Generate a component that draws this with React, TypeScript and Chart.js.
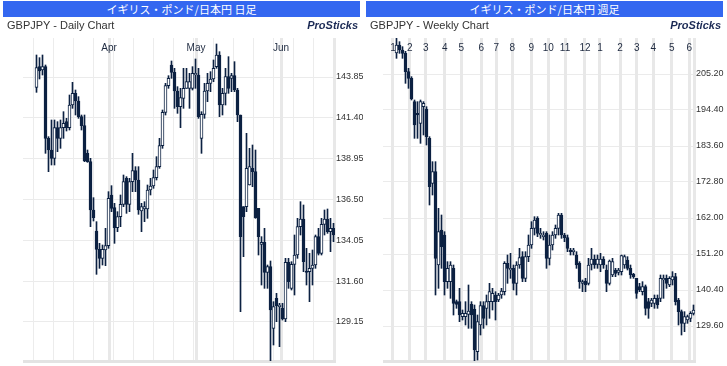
import React, { useEffect, useRef } from 'react';
import { Chart, registerables } from 'chart.js';

Chart.register(...registerables);

const NAVY = '#0c2142';

// ---------- Daily (GBPJPY) ----------
const dailyOpen = [143.23, 144.47, 144.27, 144.47, 140.17, 139.47, 138.97, 140.81, 140.17, 140.81,
  141.17, 140.81, 142.17, 142.87, 142.41, 141.47, 140.93, 139.27, 138.77, 135.87,
  134.61, 133.51, 132.97, 133.47, 133.73, 136.77, 136.01, 134.81, 135.47, 136.21,
  137.77, 136.21, 137.57, 138.23, 137.67, 135.81, 135.93, 135.93, 137.07, 137.31,
  137.81, 138.47, 139.73, 141.73, 143.33, 144.57, 144.13, 143.01, 142.07, 142.57,
  143.17, 143.17, 143.17, 143.97, 143.97, 140.17, 141.61, 143.01, 143.47, 143.73,
  144.47, 145.17, 142.17, 142.87, 143.87, 143.77, 143.93, 143.07, 141.57, 136.07,
  136.07, 137.37, 138.37, 138.17, 135.97, 133.81, 133.93, 132.13, 132.47, 128.77,
  130.57, 130.07, 129.97, 129.33, 132.73, 131.17, 132.61, 133.17, 134.87, 135.33,
  132.21, 132.17, 132.37, 132.57, 134.27, 133.27, 135.01, 135.33, 134.57, 134.77];
const dailyHigh = [145.17, 145.01, 145.17, 144.57, 140.27, 141.27, 141.27, 141.17, 141.27, 141.77,
  141.37, 142.77, 143.53, 143.07, 142.67, 141.57, 141.57, 139.47, 138.97, 136.61,
  135.17, 133.87, 133.77, 134.77, 136.97, 137.33, 136.27, 135.77, 136.77, 137.97,
  137.87, 137.77, 139.27, 138.47, 138.47, 136.27, 136.37, 137.37, 137.77, 138.27,
  139.07, 140.17, 141.87, 143.47, 143.93, 144.81, 144.37, 143.27, 143.17, 144.37,
  144.37, 144.07, 144.47, 144.93, 144.37, 141.77, 143.47, 144.07, 144.17, 144.87,
  145.83, 145.37, 143.17, 144.37, 145.07, 144.07, 144.77, 143.17, 141.57, 136.07,
  140.47, 139.57, 139.77, 139.47, 135.97, 134.27, 134.77, 132.57, 132.81, 130.37,
  130.87, 130.27, 130.27, 132.97, 132.97, 132.77, 134.37, 135.37, 136.37, 136.17,
  133.57, 133.27, 133.47, 134.37, 134.77, 135.37, 135.87, 135.93, 135.37, 135.07];
const dailyLow = [142.93, 143.73, 143.97, 139.27, 138.17, 138.57, 138.57, 139.37, 139.57, 140.17,
  140.61, 140.67, 141.97, 141.57, 141.37, 140.67, 138.77, 138.73, 134.87, 135.21,
  132.01, 132.37, 132.57, 132.53, 133.57, 135.77, 133.87, 134.57, 134.87, 136.07,
  135.67, 135.77, 136.97, 136.97, 135.61, 134.57, 135.17, 135.37, 136.77, 137.17,
  137.67, 138.37, 139.57, 141.57, 143.17, 143.77, 141.97, 141.67, 140.81, 141.97,
  143.17, 141.97, 143.07, 143.17, 141.37, 139.27, 141.37, 142.37, 142.97, 143.57,
  144.37, 141.47, 141.57, 142.17, 142.87, 142.97, 142.97, 141.17, 129.77, 133.07,
  135.77, 137.37, 137.27, 135.37, 133.17, 131.37, 131.17, 131.17, 126.77, 127.77,
  129.17, 127.67, 129.27, 129.17, 131.17, 131.07, 130.77, 132.97, 134.37, 132.17,
  131.37, 130.37, 131.37, 132.37, 133.17, 133.17, 134.37, 134.47, 133.37, 133.97];
const dailyClose = [144.41, 144.21, 144.47, 140.17, 139.47, 138.97, 140.81, 140.17, 140.81, 141.07,
  140.81, 142.17, 142.87, 142.41, 141.47, 140.93, 138.81, 138.77, 135.87, 135.41,
  133.51, 132.97, 133.51, 133.73, 136.57, 135.97, 134.81, 135.47, 136.21, 137.57,
  136.21, 137.57, 138.23, 137.67, 135.87, 136.07, 136.07, 137.07, 137.31, 137.81,
  138.47, 139.73, 141.73, 143.33, 143.77, 144.13, 143.01, 142.07, 142.61, 143.17,
  143.57, 143.57, 144.07, 144.07, 141.47, 141.61, 143.01, 143.47, 143.73, 144.37,
  145.17, 142.17, 142.87, 143.87, 143.17, 143.93, 143.07, 141.57, 134.27, 135.47,
  138.37, 138.47, 138.17, 135.41, 134.27, 133.93, 132.13, 132.47, 129.87, 130.07,
  130.13, 130.17, 129.33, 132.73, 131.57, 132.61, 133.17, 134.87, 135.33, 132.77,
  132.13, 132.37, 132.57, 134.27, 133.27, 135.01, 135.33, 134.57, 134.77, 134.37];
const dailyYTicks = [129.15, 131.6, 134.05, 136.5, 138.95, 141.4, 143.85];
const dailyMonthLabels = ['Apr', 'May', 'Jun'];
const dailyMonthPos = [24.17, 53.17, 81.5];
const dailyWeekPos = [-1, 5.67, 12.33, 19, 25.67, 32.33, 39, 45.67, 52.33, 59, 65.67, 72.33, 79, 85.67, 92.33, 99];

// ---------- Weekly (GBPJPY) ----------
const weeklyOpen = [211.5, 213.9, 212.4, 211.4, 205.9, 203.9, 196.9, 193.4, 190.4, 195.4,
  194.7, 185.9, 172.4, 175.9, 147.9, 158.4, 156.9, 142.9, 142.9, 146.9,
  136.9, 136.9, 132.4, 132.4, 133.1, 136.1, 134.7, 121.9, 129.9, 135.7,
  134.9, 136.9, 136.9, 138.9, 137.4, 138.9, 139.9, 148.4, 146.4, 146.9,
  142.4, 147.9, 150.4, 143.9, 150.4, 153.9, 158.9, 161.9, 156.9, 156.4,
  157.4, 149.9, 153.9, 156.9, 158.9, 162.9, 156.9, 156.1, 152.4, 151.9,
  150.9, 148.4, 142.4, 143.1, 142.4, 148.1, 149.7, 148.1, 147.9, 149.7,
  146.4, 142.4, 144.9, 146.4, 145.7, 145.9, 147.9, 149.4, 146.9, 145.1,
  143.9, 141.4, 139.9, 141.4, 136.9, 136.4, 136.4, 137.9, 137.9, 143.4,
  143.9, 141.9, 143.4, 144.4, 137.4, 133.9, 130.4, 131.4, 131.9, 133.4];
const weeklyHigh = [215.9, 214.9, 213.4, 212.0, 206.9, 204.4, 197.4, 196.9, 197.4, 196.9,
  195.4, 186.4, 178.9, 178.9, 164.9, 162.9, 157.9, 148.9, 148.9, 147.9,
  137.4, 140.9, 134.4, 136.9, 141.9, 136.9, 135.9, 132.9, 136.9, 136.9,
  138.9, 142.4, 140.9, 139.9, 139.4, 140.9, 148.9, 150.9, 151.4, 147.9,
  148.9, 152.9, 151.9, 151.9, 156.9, 160.9, 162.4, 162.4, 158.9, 157.9,
  157.9, 156.9, 157.9, 159.9, 163.4, 163.4, 157.4, 156.9, 152.9, 152.9,
  151.9, 148.9, 143.4, 143.9, 149.9, 152.9, 150.9, 150.9, 151.4, 150.4,
  147.9, 149.4, 149.9, 146.9, 146.9, 150.9, 150.9, 150.4, 147.9, 145.4,
  143.9, 142.4, 142.9, 141.9, 137.9, 137.9, 138.9, 138.9, 144.9, 144.9,
  144.9, 144.4, 145.9, 145.4, 137.9, 134.4, 133.9, 132.9, 133.9, 135.9];
const weeklyLow = [209.9, 211.4, 209.9, 202.4, 200.9, 197.4, 185.9, 185.9, 184.4, 186.9,
  183.9, 165.9, 168.9, 138.9, 140.9, 146.9, 138.9, 140.9, 137.9, 132.9,
  134.9, 130.9, 131.4, 129.9, 128.9, 128.9, 118.9, 119.4, 126.9, 128.9,
  129.9, 131.9, 134.4, 131.4, 136.9, 137.9, 138.9, 142.4, 143.9, 140.4,
  138.9, 146.9, 142.9, 142.9, 148.9, 152.9, 156.9, 156.4, 155.9, 155.4,
  146.9, 147.9, 152.4, 155.9, 156.9, 155.9, 154.9, 151.9, 150.9, 150.9,
  146.9, 140.9, 139.9, 139.9, 141.9, 146.4, 146.9, 146.9, 145.9, 146.9,
  139.9, 141.9, 144.4, 144.4, 144.9, 144.9, 146.9, 146.4, 143.9, 143.9,
  137.9, 139.9, 138.9, 132.9, 131.9, 135.4, 134.9, 134.9, 136.9, 137.9,
  140.9, 141.4, 141.9, 135.9, 129.9, 126.9, 127.9, 130.4, 130.9, 132.9];
const weeklyClose = [213.9, 212.4, 211.4, 205.9, 203.9, 197.7, 189.9, 192.9, 196.9, 196.4,
  186.4, 171.4, 175.9, 149.9, 157.9, 153.4, 142.9, 146.9, 147.9, 136.4,
  136.1, 132.9, 133.4, 133.4, 134.1, 132.9, 122.4, 130.9, 135.7, 131.9,
  136.9, 139.9, 139.4, 136.9, 138.9, 140.1, 148.4, 146.9, 146.9, 142.4,
  147.9, 150.1, 143.9, 150.4, 153.9, 158.9, 161.4, 157.4, 157.4, 156.9,
  149.9, 153.9, 156.9, 158.9, 162.9, 156.9, 156.1, 152.9, 151.9, 152.4,
  147.9, 142.9, 142.9, 141.9, 147.9, 149.7, 147.9, 149.7, 149.7, 147.9,
  142.4, 149.1, 148.9, 145.4, 146.4, 150.7, 150.4, 146.9, 144.9, 144.4,
  139.4, 140.4, 141.4, 134.9, 134.9, 137.4, 137.9, 135.9, 143.9, 143.9,
  142.4, 143.9, 144.4, 136.9, 133.9, 130.4, 132.4, 132.4, 133.4, 134.4];
const weeklyYTicks = [129.6, 140.4, 151.2, 162.0, 172.8, 183.6, 194.4, 205.2];
const weeklyMonthLabels = ['1', '2', '3', '4', '5', '6', '7', '8', '9', '10', '11', '12', '1', '2', '3', '4', '5', '6'];
const weeklyMonthPos = [-1.17, 4.4, 9.73, 16.07, 21.6, 28.27, 33.27, 38.6, 44.93, 50.6, 56.17, 62.83, 67.83, 74.5, 80.07, 85.6, 91.73, 97.6];
const weeklyWeekPos: number[] = [];

const FONT = '"Liberation Sans", Arial, sans-serif';

type CanvasProps = {
  width: number;
  height: number;
  open: number[];
  high: number[];
  low: number[];
  close: number[];
  yMin: number;
  yMax: number;
  yTicks: number[];
  padLeft: number;
  axisWidth: number;
  monthLabels: string[];
  monthPos: number[];
  weekPos: number[];
};

function CandleCanvas(props: CanvasProps) {
  const ref = useRef<HTMLCanvasElement | null>(null);
  useEffect(() => {
    const canvas = ref.current;
    if (!canvas) return;
    const { open, high, low, close } = props;
    const bodies = open.map((o, i) => ({ x: i, y: [o, close[i]] }));
    const wicks = open.map((_, i) => ({ x: i, y: [low[i], high[i]] }));
    const fills = open.map((o, i) => (close[i] >= o ? '#ffffff' : NAVY));

    const overlay = {
      id: 'panelGrid',
      beforeDatasetsDraw(chart: any) {
        const { ctx, chartArea: a } = chart;
        const xs = chart.scales.x;
        const h = a.bottom - a.top;
        ctx.save();
        ctx.fillStyle = '#ececec';
        props.weekPos.forEach((v) => {
          const px = xs.getPixelForValue(v);
          ctx.fillRect(Math.round(px - 0.5), a.top, 1, h);
        });
        ctx.fillStyle = '#e8e8e8';
        props.monthPos.forEach((v) => {
          const px = xs.getPixelForValue(v);
          ctx.fillRect(Math.round(px - 1.5), a.top, 3, h);
        });
        ctx.fillRect(Math.round(a.right) - 2, a.top, 3, h);
        ctx.fillStyle = '#e3e3e3';
        ctx.fillRect(Math.round(a.left), Math.round(a.bottom) - 1, Math.round(a.right - a.left) + 1, 3);
        ctx.fillStyle = '#1e2a40';
        ctx.font = '10px ' + FONT;
        ctx.textAlign = 'center';
        ctx.textBaseline = 'alphabetic';
        props.monthLabels.forEach((t, k) => {
          ctx.fillText(t, xs.getPixelForValue(props.monthPos[k]), a.top + 12.5);
        });
        ctx.restore();
      },
    };

    const chart = new Chart(canvas, {
      type: 'bar',
      data: {
        datasets: [
          {
            data: bodies as any,
            backgroundColor: fills,
            borderColor: NAVY,
            borderWidth: 1,
            borderSkipped: false,
            barThickness: 3,
            grouped: false,
          } as any,
          {
            data: wicks as any,
            backgroundColor: NAVY,
            borderWidth: 0,
            barThickness: 1,
            grouped: false,
          } as any,
        ],
      },
      options: {
        animation: false,
        responsive: false,
        maintainAspectRatio: false,
        layout: { padding: { left: props.padLeft, top: 8, bottom: 5, right: 0 } },
        plugins: { legend: { display: false }, tooltip: { enabled: false }, title: { display: false } },
        scales: {
          x: { type: 'linear', display: false, min: -4.5, max: 99.5, offset: false },
          y: {
            position: 'right',
            min: props.yMin,
            max: props.yMax,
            bounds: 'data',
            afterBuildTicks: (s: any) => {
              s.ticks = props.yTicks.map((v) => ({ value: v }));
            },
            afterFit: (s: any) => {
              s.width = props.axisWidth;
              s.paddingTop = 0;
              s.paddingBottom = 0;
            },
            grid: { color: '#ebebeb', lineWidth: 1, drawTicks: false },
            border: { display: false },
            ticks: {
              padding: 1,
              color: '#333333',
              font: { size: 9, family: FONT },
              autoSkip: false,
              callback: (v: any) => Number(v).toFixed(2),
            },
          } as any,
        },
      } as any,
      plugins: [overlay],
    });
    return () => chart.destroy();
  }, []);
  return (
    <canvas
      ref={ref}
      width={props.width}
      height={props.height}
      style={{ position: 'absolute', left: 0, top: 30, width: props.width, height: props.height }}
    />
  );
}

type PanelProps = {
  left: number;
  width: number;
  title: string;
  subtitle: string;
  proRight: number;
  children: React.ReactNode;
};

function Panel({ left, width, title, subtitle, proRight, children }: PanelProps) {
  return (
    <div style={{ position: 'absolute', left, top: 0, width, height: 366 }}>
      {children}
      <div
        style={{
          position: 'absolute',
          left: 3,
          top: 1,
          width: 357,
          height: 16,
          background: '#3467f0',
          color: '#ffffff',
          textAlign: 'center',
          font: '11px "Noto Sans CJK JP", sans-serif',
          lineHeight: '16px',
          whiteSpace: 'nowrap',
        }}
      >
        {title}
      </div>
      <div
        style={{
          position: 'absolute',
          left: 7,
          top: 20,
          font: '11px ' + FONT,
          lineHeight: '11px',
          color: '#333333',
          whiteSpace: 'nowrap',
        }}
      >
        {subtitle}
      </div>
      <div
        style={{
          position: 'absolute',
          right: proRight,
          top: 20,
          font: 'italic bold 11px ' + FONT,
          lineHeight: '11px',
          color: '#1b2a55',
          whiteSpace: 'nowrap',
        }}
      >
        ProSticks
      </div>
    </div>
  );
}

export default function App() {
  return (
    <div
      style={{
        position: 'fixed',
        left: 0,
        top: 0,
        width: 727,
        height: 366,
        overflow: 'hidden',
        background: '#ffffff',
      }}
    >
      <Panel left={0} width={363} title="イギリス・ポンド/日本円 日足" subtitle="GBPJPY - Daily Chart" proRight={5}>
        <CandleCanvas
          width={363}
          height={336}
          open={dailyOpen}
          high={dailyHigh}
          low={dailyLow}
          close={dailyClose}
          yMin={126.81}
          yMax={146.19}
          yTicks={dailyYTicks}
          padLeft={23}
          axisWidth={28}
          monthLabels={dailyMonthLabels}
          monthPos={dailyMonthPos}
          weekPos={dailyWeekPos}
        />
      </Panel>
      <Panel left={363} width={364} title="イギリス・ポンド/日本円 週足" subtitle="GBPJPY - Weekly Chart" proRight={6}>
        <CandleCanvas
          width={364}
          height={336}
          open={weeklyOpen}
          high={weeklyHigh}
          low={weeklyLow}
          close={weeklyClose}
          yMin={119.1}
          yMax={216.0}
          yTicks={weeklyYTicks}
          padLeft={20}
          axisWidth={32}
          monthLabels={weeklyMonthLabels}
          monthPos={weeklyMonthPos}
          weekPos={weeklyWeekPos}
        />
      </Panel>
    </div>
  );
}
